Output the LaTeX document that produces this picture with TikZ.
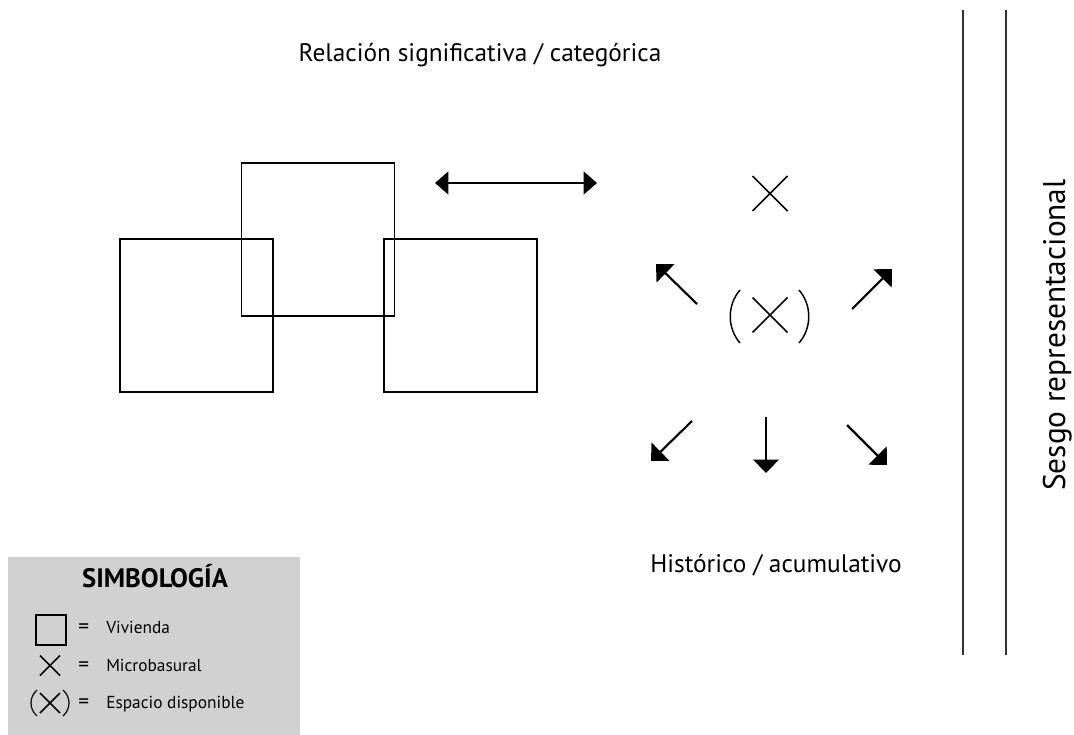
\documentclass[tikz,border=0pt]{standalone}
\usepackage{fontspec}
\setmainfont{PT Sans}
\usetikzlibrary{arrows.meta}

\tikzset{
  casa/.style={draw, line width=0.9pt, minimum size=114.75pt, inner sep=0pt},
  flecha/.style={line width=1.6pt, -{Triangle[length=10pt,width=19pt]}},
  cruz/.style={line width=1.1pt},
  parentesis/.style={line width=1.1pt},
  rotulo/.style={font=\fontsize{19}{21}\selectfont, inner sep=0pt, anchor=base},
  leyenda/.style={font=\fontsize{13}{15}\selectfont, anchor=base west, inner sep=0pt},
  igual/.style={font=\fontsize{16}{18}\selectfont, anchor=base west, inner sep=0pt},
  pics/equis/.style={code={\draw[cruz] (-#1,-#1) -- (#1,#1) (-#1,#1) -- (#1,-#1);}},
}

\begin{document}
\begin{tikzpicture}[x=0.75pt, y=-0.75pt]
\useasboundingbox (0,0) rectangle (1074,735);

% titles
\node[rotulo] (relacion) at (480,62) {Relación significativa / categórica};
\node[rotulo] (historico) at (776,572) {Histórico / acumulativo};
\node[rotulo, font=\fontsize{23.5}{25}\selectfont, rotate=90] (sesgo) at (1065,335) {Sesgo representacional};

% viviendas
\node[casa] (casa1) at (196.5,315.5) {};
\node[casa] (casa2) at (318,239.5) {};
\node[casa] (casa3) at (460.5,315.5) {};

% double arrow
\coordinate (da) at (435,183);
\coordinate (db) at (597,183);
\draw[flecha, {Triangle[length=10pt,width=17pt]}-{Triangle[length=10pt,width=17pt]}] (da) -- (db);

% microbasural
\pic at (770,193.5) {equis=17.5};

% espacio disponible
\coordinate (centro) at (770,315);
\pic at (centro) {equis=17.5};
\draw[parentesis] (740,290) .. controls (727,305) and (727,328) .. (740,343);
\draw[parentesis] (799,290) .. controls (812,305) and (812,328) .. (799,343);

% arrows out of the centre
\coordinate (nw1) at (697,304);  \coordinate (nw2) at (656,264);
\coordinate (ne1) at (852,309);  \coordinate (ne2) at (892,269);
\coordinate (sw1) at (692,421);  \coordinate (sw2) at (651,461);
\coordinate (s1)  at (766,417);  \coordinate (s2)  at (766,473);
\coordinate (se1) at (847,425);  \coordinate (se2) at (887,465);
\draw[flecha] (nw1) -- (nw2);
\draw[flecha] (ne1) -- (ne2);
\draw[flecha] (sw1) -- (sw2);
\draw[flecha] (s1) -- (s2);
\draw[flecha] (se1) -- (se2);

% vertical lines
\coordinate (l1a) at (963,10);   \coordinate (l1b) at (963,655);
\coordinate (l2a) at (1006,10);  \coordinate (l2b) at (1006,655);
\draw[line width=1.2pt, black!80] (l1a) -- (l1b);
\draw[line width=1.2pt, black!80] (l2a) -- (l2b);

% legend
\fill[black!18] (8,557) rectangle (300,735);
\node[font=\bfseries\fontsize{20}{22}\selectfont, inner sep=0pt, anchor=base] (simbologia) at (155,587) {SIMBOLOGÍA};

\draw[line width=0.8pt] (36,615) rectangle (66,645);
\node[igual] (eq1) at (78,633) {=};
\node[leyenda] (vivienda) at (106,633) {Vivienda};

\pic at (50,665.5) {equis=10};
\node[igual] (eq2) at (78,671) {=};
\node[leyenda] (micro) at (106,671) {Microbasural};

\pic at (50,703) {equis=10};
\draw[parentesis, line width=0.9pt] (37,690) .. controls (29,697) and (29,709) .. (37,716);
\draw[parentesis, line width=0.9pt] (63,690) .. controls (71,697) and (71,709) .. (63,716);
\node[igual] (eq3) at (78,708) {=};
\node[leyenda] (espacio) at (106,708) {Espacio disponible};

\end{tikzpicture}
\end{document}
